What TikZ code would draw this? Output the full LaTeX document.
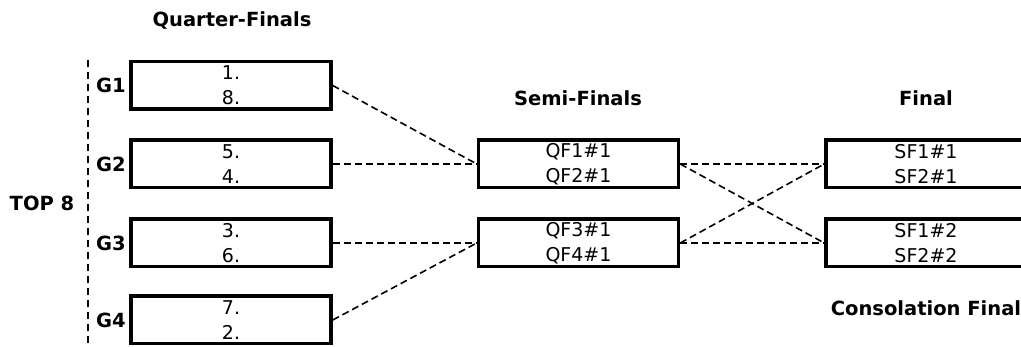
\documentclass[tikz,border=0pt]{standalone}
\usepackage{fontspec}
\setmainfont{DejaVu Sans}
\usetikzlibrary{positioning}
\begin{document}
\begin{tikzpicture}[x=1pt,y=-1pt,
    box/.style={draw, line width=3.5pt, minimum width=200pt, minimum height=47.5pt, inner sep=0pt, align=center, font=\fontsize{19}{25}\selectfont},
    title/.style={font=\bfseries\fontsize{19.5}{23}\selectfont},
    conn/.style={line width=1.6pt, dash pattern=on 7pt off 4pt}]
        \useasboundingbox (0,0) rectangle (1021,347);
        % labels
        \node[title] (qftitle) at (232,21) {Quarter-Finals};
        \node[title] (sftitle) at (578,98) {Semi-Finals};
        \node[title] (ftitle) at (926,98) {Final};
        \node[title] (cftitle) at (926,308) {Consolation Final};
        \node[title] (top) at (42,203) {TOP 8};
        \coordinate (vtop) at (88,60);
        \coordinate (vbot) at (88,347);
        \draw[line width=1.6pt, dash pattern=on 7pt off 5pt] (vtop) -- (vbot);
        % quarter-finals
        \node[box] (g1) at (231,85.5) {1.\\8.};
        \node[box] (g2) at (231,164) {5.\\4.};
        \node[box] (g3) at (231,243) {3.\\6.};
        \node[box] (g4) at (231,320) {7.\\2.};
        \node[title, left=0pt of g1] (lg1) {G1};
        \node[title, left=0pt of g2] (lg2) {G2};
        \node[title, left=0pt of g3] (lg3) {G3};
        \node[title, left=0pt of g4] (lg4) {G4};
        % semi-finals
        \node[box] (s1) at (578.5,164) {QF1\#1\\QF2\#1};
        \node[box] (s2) at (578.5,243) {QF3\#1\\QF4\#1};
        % finals
        \node[box] (f1) at (926,164) {SF1\#1\\SF2\#1};
        \node[box] (f2) at (926,243) {SF1\#2\\SF2\#2};
        \draw[conn] (g1.east) -- (s1.west);
        \draw[conn] (g2.east) -- (s1.west);
        \draw[conn] (g3.east) -- (s2.west);
        \draw[conn] (g4.east) -- (s2.west);
        \draw[conn] (s1.east) -- (f1.west);
        \draw[conn] (s1.east) -- (f2.west);
        \draw[conn] (s2.east) -- (f2.west);
        \draw[conn] (s2.east) -- (f1.west);
    \end{tikzpicture}
\end{document}
